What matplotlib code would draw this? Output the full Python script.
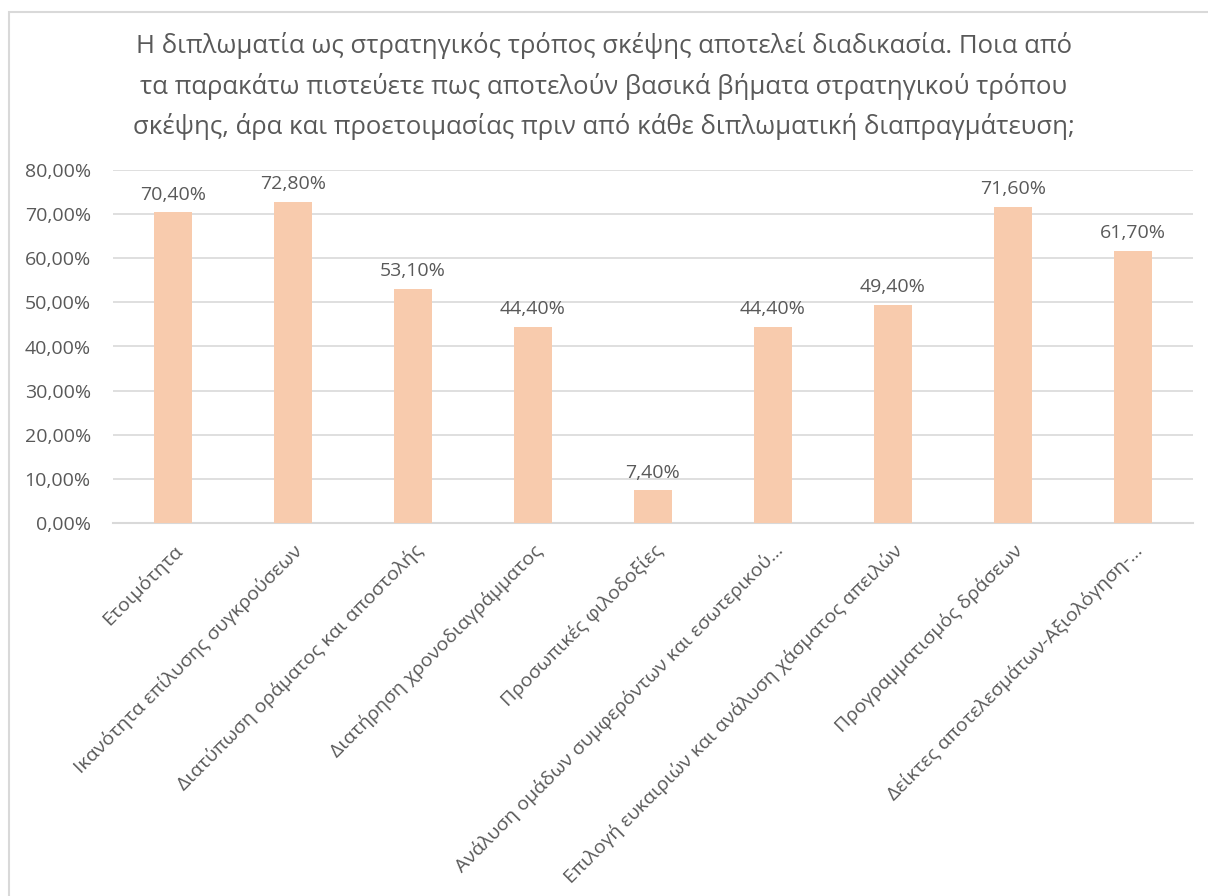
import matplotlib.pyplot as plt
from matplotlib.patches import Rectangle
from matplotlib.ticker import FuncFormatter

plt.rcParams['font.family'] = ['Open Sans', 'DejaVu Sans']

# Δεδομένα
kategories = ["Ετοιμότητα",
              "Ικανότητα επίλυσης συγκρούσεων",
              "Διατύπωση οράματος και αποστολής",
              "Διατήρηση χρονοδιαγράμματος",
              "Προσωπικές φιλοδοξίες",
              "Ανάλυση ομάδων συμφερόντων και εσωτερικού…",
              "Επιλογή ευκαιριών και ανάλυση χάσματος απειλών",
              "Προγραμματισμός δράσεων",
              "Δείκτες αποτελεσμάτων-Αξιολόγηση-…"]
pososta = [70.4, 72.8, 53.1, 44.4, 7.4, 44.4, 49.4, 71.6, 61.7]
y_ticks = [0, 10, 20, 30, 40, 50, 60, 70, 80]

titlos = ("Η διπλωματία ως στρατηγικός τρόπος σκέψης αποτελεί διαδικασία. Ποια από\n"
          "τα παρακάτω πιστεύετε πως αποτελούν βασικά βήματα στρατηγικού τρόπου\n"
          "σκέψης, άρα και προετοιμασίας πριν από κάθε διπλωματική διαπραγμάτευση;")

gkri = '#595959'

fig = plt.figure(figsize=(12.08, 8.96), dpi=100)
# πλαίσιο γραφήματος
fig.patches.append(Rectangle((9 / 1208, -0.1), 1.2, 1.1 - 12 / 896,
                             transform=fig.transFigure, fill=False,
                             edgecolor='#D9D9D9', linewidth=1.5))

ax = fig.add_axes([113 / 1208, 1 - 523 / 896, 1080 / 1208, 353 / 896])

x = range(len(kategories))
bars = ax.bar(x, pososta, width=0.32, color='#F8CBAD', zorder=3)

for b, v in zip(bars, pososta):
    ax.text(b.get_x() + b.get_width() / 2, v + 2.0, f"{v:.2f}%".replace('.', ','),
            ha='center', va='bottom', fontsize=14, color=gkri)

ax.set_xlim(-0.5, len(kategories) - 0.5)
ax.set_ylim(0, 80)
ax.set_yticks(y_ticks)
ax.yaxis.set_major_formatter(FuncFormatter(lambda v, p: f"{v:.2f}%".replace('.', ',')))
ax.grid(axis='y', color='#D9D9D9', linewidth=1.2, zorder=0)
ax.set_xticks(list(x))
ax.set_xticklabels(kategories, rotation=45, ha='right', rotation_mode='anchor',
                   fontsize=14, color=gkri)
ax.tick_params(axis='y', length=0, labelsize=14, labelcolor=gkri, pad=16)
ax.tick_params(axis='x', length=0, pad=13)
for s in ['top', 'right', 'left']:
    ax.spines[s].set_visible(False)
ax.spines['bottom'].set_color('#D9D9D9')
ax.spines['bottom'].set_linewidth(1.5)

fig.text(0.5, 1 - 86 / 896, titlos, ha='center', va='center', fontsize=18.5,
         color=gkri, linespacing=1.65)

fig.savefig('out.png', dpi=100, facecolor='white')
